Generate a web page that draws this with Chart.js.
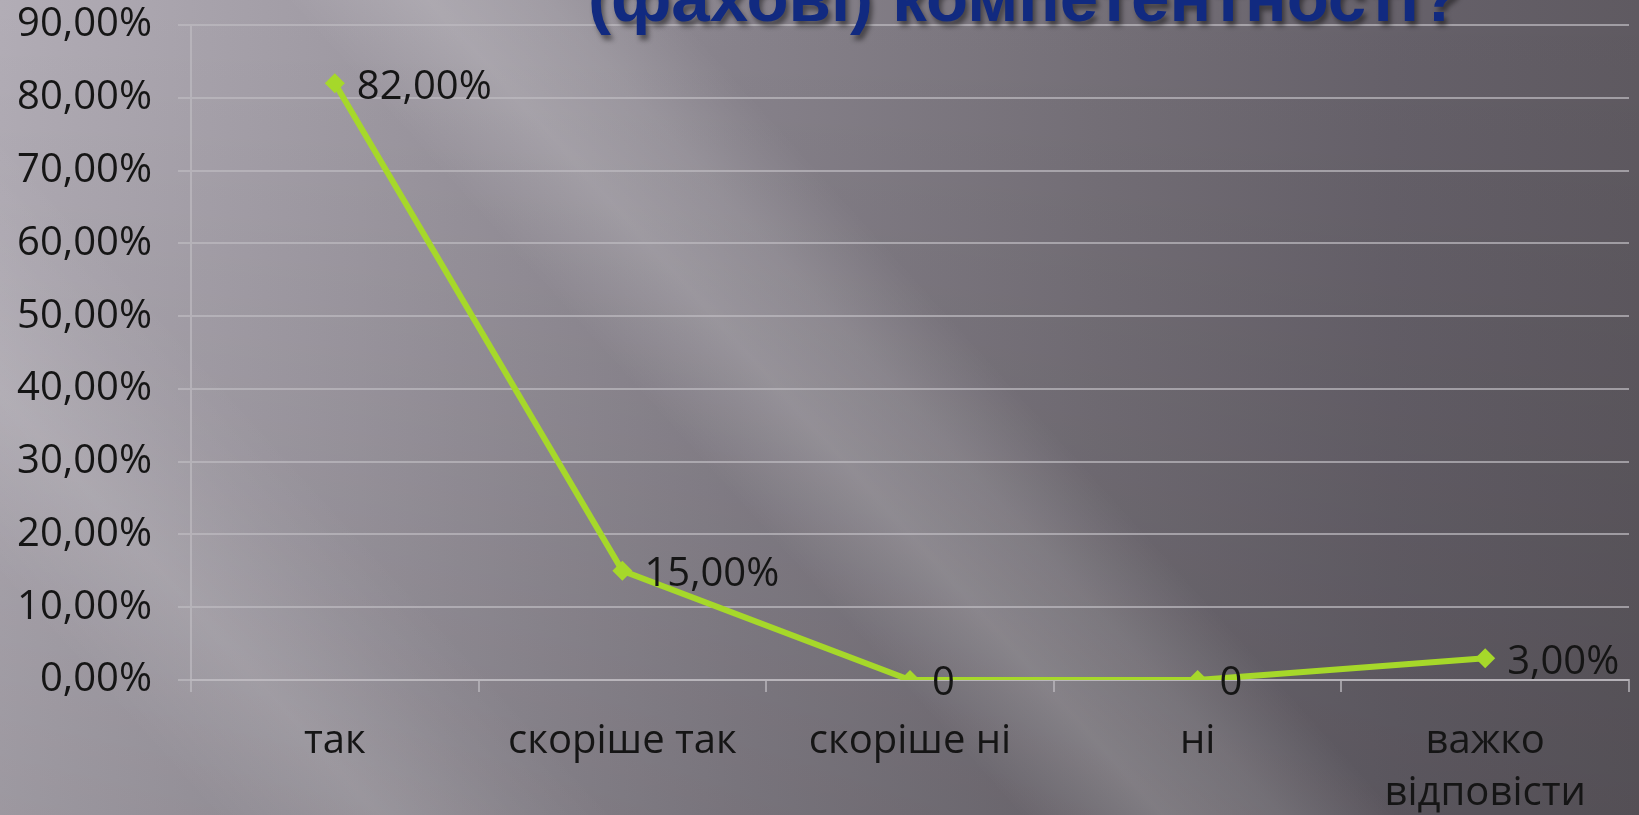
<!DOCTYPE html>
<html lang="uk">
<head>
    <meta charset="UTF-8">
    <title>Компетентності</title>
    <script src="https://cdn.jsdelivr.net/npm/chart.js"></script>
    <style>
        html, body {
            margin: 0;
            padding: 0;
            width: 1639px;
            height: 815px;
            overflow: hidden;
        }
        body {
            position: relative;
            background:
                linear-gradient(48deg, rgba(255,255,255,0) 9%, rgba(255,255,255,0.12) 16%, rgba(255,255,255,0.04) 22%, rgba(255,255,255,0) 26%),
                linear-gradient(48deg, rgba(255,255,255,0) 43%, rgba(255,255,255,0.18) 49%, rgba(255,255,255,0.12) 54%, rgba(255,255,255,0) 59%),
                linear-gradient(180deg, rgba(0,0,0,0) 0%, rgba(0,0,0,0.12) 100%),
                linear-gradient(90deg, #b2adb6 0%, #9f9aa3 22%, #88838c 45%, #746f77 68%, #66616a 85%, #5f5a61 100%);
        }
        .title {
            position: absolute;
            left: 588px;
            top: -42px;
            font-family: "Liberation Sans", Arial, sans-serif;
            font-size: 69px;
            font-weight: bold;
            color: #112a80;
            text-shadow: 3px 5px 5px rgba(0,0,0,0.45);
            white-space: nowrap;
            z-index: 2;
        }
        .chart-box {
            position: absolute;
            left: 0;
            top: 0;
            width: 1639px;
            height: 815px;
        }
    </style>
</head>
<body>
    <div class="title">(фахові) компетентності?</div>
    <div class="chart-box">
        <canvas id="lineChart"></canvas>
    </div>

    <script>
        // chart data
        const categories = ['так', 'скоріше так', 'скоріше ні', 'ні', ['важко', 'відповісти']];
        const percentValues = [82, 15, 0, 0, 3];
        const pointLabels = ['82,00%', '15,00%', '0', '0', '3,00%'];
        const yTicks = [0, 10, 20, 30, 40, 50, 60, 70, 80, 90];

        const textFont = '"Open Sans", "Noto Sans", sans-serif';
        const gridColor = 'rgba(190, 187, 193, 0.7)';

        function formatPercent(v) {
            return v.toFixed(2).replace('.', ',') + '%';
        }

        // labels to the right of each point, like the office chart
        const pointLabelPlugin = {
            id: 'pointLabels',
            afterDatasetsDraw(chart) {
                const ctx = chart.ctx;
                const meta = chart.getDatasetMeta(0);
                ctx.save();
                ctx.font = '40px ' + textFont;
                ctx.fillStyle = '#151515';
                ctx.textAlign = 'left';
                ctx.textBaseline = 'middle';
                meta.data.forEach(function(pt, i) {
                    ctx.fillText(pointLabels[i], pt.x + 22, pt.y + 4);
                });
                ctx.restore();
            }
        };

        document.addEventListener('DOMContentLoaded', function() {
            const ctx = document.getElementById('lineChart');

            new Chart(ctx, {
                type: 'line',
                data: {
                    labels: categories,
                    datasets: [{
                        data: percentValues,
                        borderColor: '#a6d82a',
                        backgroundColor: '#a6d82a',
                        borderWidth: 6,
                        pointStyle: 'rectRot',
                        pointRadius: 10,
                        pointBorderWidth: 0,
                        tension: 0
                    }]
                },
                options: {
                    responsive: true,
                    maintainAspectRatio: false,
                    animation: false,
                    layout: {
                        padding: { top: 25, right: 9, left: 0, bottom: 0 }
                    },
                    plugins: {
                        legend: { display: false },
                        tooltip: { enabled: false }
                    },
                    scales: {
                        x: {
                            offset: true,
                            afterFit: function(scale) { scale.height = 135; },
                            grid: {
                                offset: true,
                                drawOnChartArea: false,
                                drawTicks: true,
                                tickLength: 12,
                                color: gridColor,
                                lineWidth: 2
                            },
                            border: { display: true, color: gridColor, width: 2 },
                            ticks: {
                                color: '#151515',
                                padding: 24,
                                maxRotation: 0,
                                font: { family: textFont, size: 40, lineHeight: 1.3 }
                            }
                        },
                        y: {
                            min: 0,
                            max: 90,
                            afterFit: function(scale) {
                                scale.width = 191;
                                scale.paddingTop = 0;
                                scale.paddingBottom = 0;
                            },
                            afterBuildTicks: function(scale) {
                                scale.ticks = yTicks.map(v => ({ value: v }));
                            },
                            grid: {
                                color: gridColor,
                                lineWidth: 2,
                                tickLength: 13
                            },
                            border: { display: true, color: gridColor, width: 2 },
                            ticks: {
                                color: '#151515',
                                padding: 26,
                                font: { family: textFont, size: 40 },
                                callback: function(v) { return formatPercent(v); }
                            }
                        }
                    }
                },
                plugins: [pointLabelPlugin]
            });
        });
    </script>
</body>
</html>
